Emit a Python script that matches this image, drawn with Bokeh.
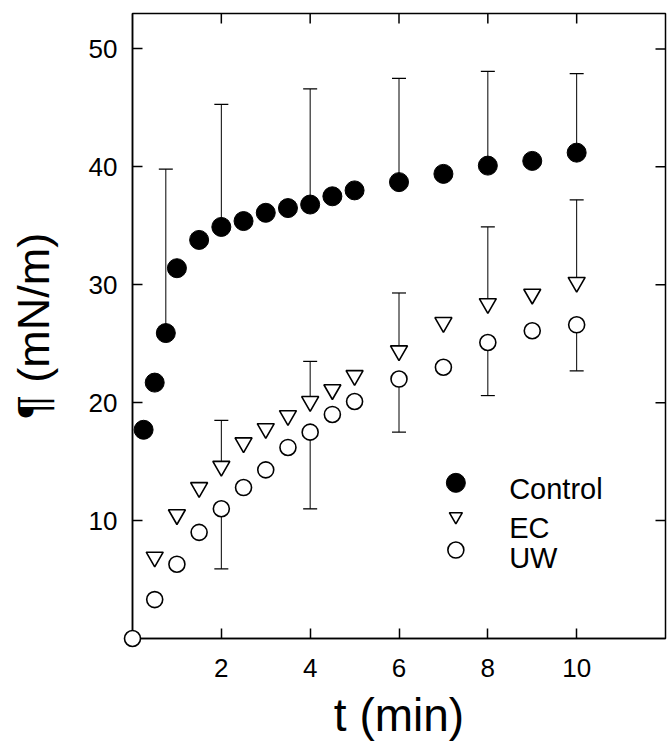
import math
from bokeh.plotting import figure
from bokeh.models import Range1d, FixedTicker, Whisker, TeeHead, ColumnDataSource
from bokeh.core.properties import value
from bokeh.embed import file_html
from bokeh.resources import INLINE

# ---- data ----
t_control = [0.25, 0.5, 0.75, 1, 1.5, 2, 2.5, 3, 3.5, 4, 4.5, 5, 6, 7, 8, 9, 10]
control = [17.7, 21.7, 25.9, 31.4, 33.8, 34.9, 35.4, 36.1, 36.5, 36.8, 37.5, 38.0,
           38.7, 39.4, 40.1, 40.5, 41.2]

t_ec = [0.5, 1, 1.5, 2, 2.5, 3, 3.5, 4, 4.5, 5, 6, 7, 8, 9, 10]
ec = [6.9, 10.5, 12.8, 14.6, 16.6, 17.8, 18.9, 20.1, 21.1, 22.3, 24.4, 26.8, 28.4, 29.2, 30.2]

t_uw = [0, 0.5, 1, 1.5, 2, 2.5, 3, 3.5, 4, 4.5, 5, 6, 7, 8, 9, 10]
uw = [0.0, 3.3, 6.3, 9.0, 11.0, 12.8, 14.3, 16.2, 17.5, 19.0, 20.1, 22.0, 23.0, 25.1, 26.1, 26.6]

# error bars (control & EC: upper only; UW: lower only)
t_err_control = [0.75, 2, 4, 6, 8, 10]
control_err_top = [39.8, 45.3, 46.6, 47.5, 48.1, 47.9]
t_err = [2, 4, 6, 8, 10]
ec_err_top = [18.5, 23.5, 29.3, 34.9, 37.2]
uw_err_bottom = [5.9, 11.0, 17.5, 20.6, 22.7]

x_ticks = [2, 4, 6, 8, 10]
y_ticks = [10, 20, 30, 40, 50]
X_MAX = 12
Y_MAX = 53

series_names = ["Control", "EC", "UW"]

FONT = "Liberation Sans"

p = figure(width=671, height=745, x_range=Range1d(0, X_MAX), y_range=Range1d(0, Y_MAX),
           output_backend="svg", toolbar_location=None,
           min_border_left=132, min_border_right=6, min_border_top=13,
           min_border_bottom=107)
p.background_fill_color = "white"
p.border_fill_color = "white"
p.grid.visible = False
p.outline_line_color = "black"
p.outline_line_width = 1.5

for ax in (p.xaxis[0], p.yaxis[0]):
    ax.axis_line_width = 1.5
    ax.major_tick_in = 10
    ax.major_tick_out = 0
    ax.major_tick_line_width = 1.5
    ax.minor_tick_line_color = None
    ax.major_label_text_font = FONT
    ax.major_label_text_font_size = "26px"
    ax.major_label_text_color = "black"
    ax.axis_label_text_font = FONT
    ax.axis_label_text_font_style = "normal"
    ax.axis_label_text_color = "black"

p.xaxis.ticker = FixedTicker(ticks=x_ticks)
p.yaxis.ticker = FixedTicker(ticks=y_ticks)
p.xaxis.axis_label = "t (min)"
p.yaxis.axis_label = "¶ (mN/m)"
p.xaxis.axis_label_text_font_size = "46px"
p.yaxis.axis_label_text_font_size = "45px"
p.xaxis.major_label_standoff = 20
p.xaxis.axis_label_standoff = 9
p.yaxis.major_label_standoff = 15
p.yaxis.axis_label_standoff = 27

# inward ticks on the top and right frame edges
p.ray(x=x_ticks, y=[Y_MAX] * len(x_ticks), length=10, length_units="screen",
      angle=-math.pi / 2, line_color="black", line_width=1.5)
p.ray(x=[X_MAX] * len(y_ticks), y=y_ticks, length=10, length_units="screen",
      angle=math.pi, line_color="black", line_width=1.5)

# error bars
ctrl_at = dict(zip(t_control, control))
ec_at = dict(zip(t_ec, ec))
uw_at = dict(zip(t_uw, uw))

src_c = ColumnDataSource(dict(base=t_err_control,
                              lower=[ctrl_at[t] for t in t_err_control],
                              upper=control_err_top))
src_e = ColumnDataSource(dict(base=t_err, lower=[ec_at[t] for t in t_err],
                              upper=ec_err_top))
src_u = ColumnDataSource(dict(base=t_err, upper=[uw_at[t] for t in t_err],
                              lower=uw_err_bottom))

p.add_layout(Whisker(source=src_c, base="base", lower="lower", upper="upper",
                     line_width=1, lower_head=None,
                     upper_head=TeeHead(size=14, line_width=1.2)))
p.add_layout(Whisker(source=src_e, base="base", lower="lower", upper="upper",
                     line_width=1, lower_head=None,
                     upper_head=TeeHead(size=14, line_width=1.2)))
p.add_layout(Whisker(source=src_u, base="base", lower="lower", upper="upper",
                     line_width=1, upper_head=None,
                     lower_head=TeeHead(size=14, line_width=1.2)))

# markers
p.scatter(t_control, control, marker="circle", size=19, fill_color="black",
          line_color="black")
p.scatter(t_ec, ec, marker="inverted_triangle", size=17, fill_color="white",
          line_color="black", line_width=1.6)
p.scatter(t_uw, uw, marker="circle", size=16, fill_color="white",
          line_color="black", line_width=1.6, level="overlay")

# legend (manual, to match marker sizes)
LEG_MARK_X = 7.28
LEG_TEXT_X = 8.48
leg_mark_y = [13.2, 10.35, 7.5]
leg_text_y = [12.7, 9.35, 6.8]
p.scatter([LEG_MARK_X], [leg_mark_y[0]], marker="circle", size=19,
          fill_color="black", line_color="black")
p.scatter([LEG_MARK_X], [leg_mark_y[1]], marker="inverted_triangle", size=13,
          fill_color="white", line_color="black", line_width=1.6)
p.scatter([LEG_MARK_X], [leg_mark_y[2]], marker="circle", size=16,
          fill_color="white", line_color="black", line_width=1.6)
p.text(x=[LEG_TEXT_X] * 3, y=leg_text_y, text=series_names,
       text_font=value(FONT), text_font_size="29px", text_color="black",
       text_align="left", text_baseline="middle")

open("out.html", "w").write(file_html(p, INLINE))
